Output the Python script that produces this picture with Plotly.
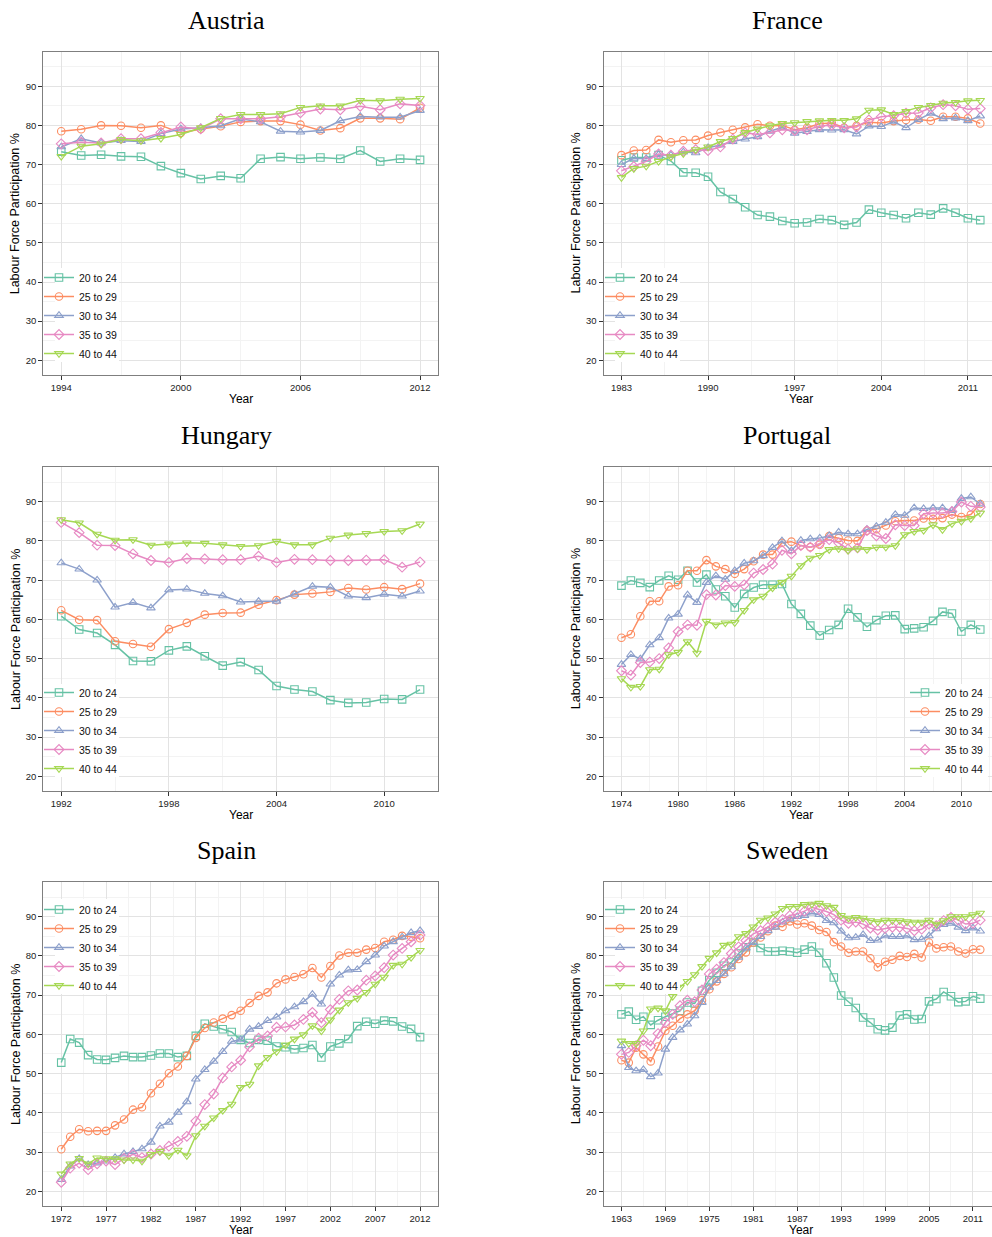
import plotly.graph_objects as go

W, H = 992, 1237

AGE_GROUPS = ["20 to 24", "25 to 29", "30 to 34", "35 to 39", "40 to 44"]
COLORS = ["#66C2A5", "#FC8D62", "#8DA0CB", "#E78AC3", "#A6D854"]
SYMBOLS = ["square-open", "circle-open", "triangle-up-open", "diamond-open", "triangle-down-open"]
Y_TICKS = [20, 30, 40, 50, 60, 70, 80, 90]

# ---------------- Austria ----------------
AUSTRIA_YEARS = list(range(1994, 2013))
AUSTRIA_20_24 = [73.3, 72.3, 72.5, 72.1, 72.0, 69.6, 67.8, 66.3, 67.1, 66.5, 71.5, 71.9, 71.5, 71.8, 71.5, 73.6, 70.8, 71.5, 71.2]
AUSTRIA_25_29 = [78.5, 79.0, 80.0, 79.9, 79.4, 80.0, 78.1, 79.1, 79.8, 80.9, 81.1, 81.1, 80.2, 78.7, 79.3, 81.8, 81.8, 81.6, 84.5]
AUSTRIA_30_34 = [74.5, 76.6, 75.5, 76.1, 75.9, 77.9, 79.1, 79.4, 79.9, 81.7, 80.9, 78.5, 78.3, 78.7, 81.2, 82.3, 82.1, 82.1, 83.8]
AUSTRIA_35_39 = [75.3, 75.7, 75.5, 76.6, 76.6, 78.2, 79.6, 79.1, 81.7, 81.7, 81.7, 82.2, 83.2, 84.2, 84.0, 84.9, 84.0, 85.5, 85.1]
AUSTRIA_40_44 = [72.1, 74.7, 75.3, 76.4, 76.1, 76.7, 77.7, 79.4, 81.8, 82.8, 82.8, 83.0, 84.6, 85.0, 85.0, 86.4, 86.3, 86.7, 86.9]
AUSTRIA_XTICKS = [1994, 2000, 2006, 2012]

# ---------------- France ----------------
FRANCE_YEARS = list(range(1983, 2013))
FRANCE_20_24 = [71.1, 71.8, 71.8, 72.4, 70.9, 68.0, 67.9, 66.9, 63.0, 61.2, 59.1, 57.1, 56.7, 55.6, 55.0, 55.2, 56.1, 55.8, 54.6, 55.2, 58.5, 57.7, 57.1, 56.3, 57.7, 57.2, 58.8, 57.7, 56.3, 55.8]
FRANCE_25_29 = [72.4, 73.6, 73.7, 76.3, 75.7, 76.2, 76.3, 77.4, 78.2, 78.9, 79.5, 80.3, 79.9, 80.0, 78.9, 79.4, 80.4, 80.6, 79.4, 79.9, 80.8, 80.6, 81.1, 81.4, 81.5, 81.2, 82.2, 82.2, 81.8, 80.5]
FRANCE_30_34 = [70.0, 71.6, 71.5, 72.5, 72.4, 73.2, 73.0, 74.3, 75.0, 75.9, 76.5, 77.1, 78.5, 79.5, 78.0, 78.4, 78.9, 78.8, 78.9, 77.8, 79.8, 79.7, 80.9, 79.4, 81.5, 83.1, 81.7, 81.9, 81.2, 82.4]
FRANCE_35_39 = [68.4, 69.5, 70.8, 72.7, 72.4, 73.4, 73.8, 73.6, 74.5, 76.5, 78.1, 77.7, 78.1, 78.9, 78.7, 78.9, 79.8, 80.1, 79.4, 79.6, 81.4, 82.2, 82.5, 83.1, 83.2, 84.5, 85.3, 85.0, 84.1, 84.3]
FRANCE_40_44 = [66.7, 69.0, 69.6, 70.8, 72.0, 72.8, 73.8, 74.5, 75.9, 76.7, 78.2, 79.1, 79.9, 80.5, 80.7, 81.0, 81.2, 81.3, 81.3, 81.7, 83.9, 84.0, 82.8, 83.6, 84.6, 85.1, 85.7, 85.9, 86.3, 86.4]
FRANCE_XTICKS = [1983, 1990, 1997, 2004, 2011]

# ---------------- Hungary ----------------
HUNGARY_YEARS = list(range(1992, 2013))
HUNGARY_20_24 = [60.8, 57.4, 56.5, 53.5, 49.4, 49.3, 52.1, 53.1, 50.6, 48.2, 49.1, 47.1, 43.0, 42.1, 41.6, 39.4, 38.7, 38.8, 39.7, 39.6, 42.1]
HUNGARY_25_29 = [62.3, 59.9, 59.8, 54.4, 53.7, 53.0, 57.5, 59.1, 61.2, 61.6, 61.7, 63.7, 64.9, 66.3, 66.6, 67.0, 68.0, 67.6, 68.2, 67.7, 69.1]
HUNGARY_30_34 = [74.4, 72.8, 70.0, 63.1, 64.3, 62.9, 67.5, 67.7, 66.6, 66.0, 64.4, 64.6, 64.6, 66.4, 68.4, 68.2, 65.9, 65.5, 66.4, 65.9, 67.2]
HUNGARY_35_39 = [84.7, 82.1, 78.9, 78.8, 76.7, 75.0, 74.5, 75.5, 75.4, 75.2, 75.2, 76.1, 74.5, 75.3, 75.2, 75.0, 75.0, 75.1, 75.2, 73.3, 74.6]
HUNGARY_40_44 = [85.4, 84.6, 81.7, 80.2, 80.3, 78.9, 79.2, 79.5, 79.4, 79.0, 78.6, 78.8, 79.9, 79.0, 79.0, 80.7, 81.5, 81.9, 82.4, 82.6, 84.3]
HUNGARY_XTICKS = [1992, 1998, 2004, 2010]

# ---------------- Portugal ----------------
PORTUGAL_YEARS = list(range(1974, 2013))
PORTUGAL_20_24 = [68.6, 69.9, 69.3, 68.2, 69.9, 71.1, 70.1, 72.4, 69.4, 71.4, 67.6, 65.9, 63.0, 66.5, 68.1, 68.8, 68.8, 69.0, 63.9, 61.4, 58.4, 55.9, 57.3, 58.6, 62.7, 60.5, 58.1, 59.8, 60.9, 61.0, 57.5, 57.7, 58.0, 59.6, 61.9, 61.5, 56.9, 58.6, 57.4]
PORTUGAL_25_29 = [55.3, 56.2, 60.8, 64.6, 64.6, 68.4, 68.7, 72.4, 72.4, 75.1, 73.5, 72.8, 71.6, 72.8, 74.8, 76.5, 76.5, 79.5, 79.8, 78.8, 78.4, 79.0, 81.2, 80.7, 80.1, 80.0, 82.6, 83.0, 83.9, 85.0, 85.2, 85.2, 85.7, 85.6, 85.8, 86.7, 86.1, 86.7, 89.4]
PORTUGAL_30_34 = [48.5, 51.0, 49.9, 53.5, 55.3, 60.3, 61.3, 66.2, 64.3, 69.4, 71.1, 70.2, 72.4, 74.3, 74.9, 76.2, 78.3, 80.0, 77.5, 80.1, 80.5, 80.7, 81.3, 82.2, 81.8, 81.8, 82.9, 83.7, 84.7, 86.7, 86.5, 88.4, 88.2, 88.4, 88.4, 87.7, 90.8, 91.2, 89.4]
PORTUGAL_35_39 = [46.9, 45.8, 49.0, 49.1, 50.0, 52.7, 56.9, 58.6, 58.5, 66.3, 66.2, 68.6, 68.4, 68.8, 71.8, 72.7, 74.1, 77.6, 76.7, 78.8, 78.4, 79.3, 80.3, 79.5, 77.9, 78.2, 82.6, 81.3, 80.6, 84.1, 83.9, 83.9, 86.9, 87.1, 87.1, 87.5, 89.9, 88.8, 88.6]
PORTUGAL_40_44 = [44.9, 42.7, 42.9, 47.2, 47.3, 51.0, 51.6, 54.3, 51.4, 59.5, 58.6, 59.1, 59.2, 62.3, 65.0, 65.9, 68.0, 69.4, 71.0, 73.7, 75.6, 76.3, 77.8, 78.0, 77.6, 78.0, 77.8, 78.4, 78.4, 78.8, 81.6, 82.4, 82.7, 84.1, 82.9, 84.4, 85.0, 85.7, 87.1]
PORTUGAL_XTICKS = [1974, 1980, 1986, 1992, 1998, 2004, 2010]

# ---------------- Spain ----------------
SPAIN_YEARS = list(range(1972, 2013))
SPAIN_20_24 = [52.8, 58.8, 57.9, 54.7, 53.6, 53.5, 54.0, 54.5, 54.2, 54.2, 54.6, 55.1, 55.1, 54.2, 54.5, 59.6, 62.7, 62.0, 61.3, 60.6, 58.6, 57.8, 58.6, 58.4, 56.9, 56.7, 56.2, 56.5, 57.3, 54.1, 56.9, 57.7, 58.8, 62.1, 63.2, 62.7, 63.5, 63.3, 62.0, 61.4, 59.3]
SPAIN_25_29 = [30.7, 33.9, 35.8, 35.3, 35.4, 35.4, 36.8, 38.3, 40.8, 41.4, 45.0, 47.4, 50.1, 51.8, 54.5, 59.1, 61.6, 63.0, 64.0, 64.9, 66.0, 68.0, 69.8, 70.7, 73.0, 74.0, 74.6, 75.3, 76.9, 74.5, 77.4, 80.1, 80.8, 80.8, 81.6, 82.0, 83.6, 84.1, 85.1, 84.9, 84.5]
SPAIN_30_34 = [23.0, 26.4, 28.3, 26.8, 27.2, 27.7, 28.6, 29.5, 30.1, 30.8, 32.5, 36.6, 37.6, 40.1, 42.8, 48.6, 51.0, 53.1, 55.6, 58.2, 58.6, 61.3, 62.0, 63.5, 64.4, 66.0, 67.0, 68.3, 70.2, 67.7, 72.8, 75.1, 76.4, 76.5, 78.5, 80.2, 82.5, 83.6, 84.8, 85.9, 86.4]
SPAIN_35_39 = [22.3, 25.9, 27.2, 25.5, 27.0, 27.7, 26.8, 28.4, 29.4, 28.6, 29.5, 30.4, 31.5, 32.7, 34.0, 37.9, 42.1, 44.8, 48.9, 51.7, 53.4, 56.8, 59.0, 59.6, 61.8, 61.9, 62.4, 63.8, 65.6, 63.0, 66.3, 68.9, 71.1, 71.3, 73.8, 74.9, 77.0, 80.2, 81.9, 83.6, 85.3]
SPAIN_40_44 = [24.4, 27.0, 28.4, 27.0, 28.5, 28.3, 28.3, 28.0, 28.0, 27.7, 29.4, 30.2, 29.1, 30.5, 29.1, 34.2, 36.6, 38.7, 40.6, 42.2, 46.5, 47.3, 52.0, 54.1, 55.6, 57.3, 58.8, 59.9, 62.2, 60.9, 63.7, 66.2, 68.1, 69.2, 70.7, 72.8, 74.6, 77.6, 77.9, 79.6, 81.4]
SPAIN_XTICKS = [1972, 1977, 1982, 1987, 1992, 1997, 2002, 2007, 2012]

# ---------------- Sweden ----------------
SWEDEN_YEARS = list(range(1963, 2013))
SWEDEN_20_24 = [65.1, 65.8, 63.7, 64.5, 62.4, 63.6, 64.5, 65.3, 66.0, 68.1, 67.9, 71.1, 73.8, 75.7, 77.5, 78.3, 80.6, 82.2, 83.4, 82.0, 81.1, 81.1, 81.3, 81.1, 80.8, 81.6, 82.4, 80.8, 78.1, 74.5, 69.9, 68.3, 66.7, 64.3, 63.0, 61.3, 61.0, 61.7, 64.8, 65.1, 63.8, 63.9, 68.4, 69.0, 70.8, 69.7, 68.2, 68.4, 69.7, 69.1]
SWEDEN_25_29 = [53.4, 52.8, 56.6, 54.9, 53.1, 56.9, 60.9, 62.2, 64.0, 65.1, 66.0, 68.7, 71.5, 73.5, 75.4, 77.1, 79.2, 80.9, 83.4, 84.7, 86.3, 87.7, 87.4, 88.8, 88.0, 88.3, 87.7, 86.6, 86.1, 83.5, 82.4, 80.8, 81.1, 81.1, 79.4, 77.1, 78.5, 79.0, 80.0, 79.7, 80.5, 79.6, 83.4, 81.9, 82.2, 82.4, 81.1, 80.6, 81.7, 81.6]
SWEDEN_30_34 = [57.1, 51.5, 50.7, 51.0, 49.2, 50.1, 56.2, 59.2, 61.1, 62.6, 64.7, 68.1, 72.0, 73.7, 75.4, 77.2, 79.6, 82.0, 83.4, 84.9, 86.4, 87.3, 88.6, 89.4, 90.0, 90.3, 90.9, 90.5, 89.0, 88.4, 86.3, 84.6, 84.7, 85.4, 83.9, 84.0, 85.1, 84.9, 84.9, 85.1, 84.1, 84.2, 85.1, 86.9, 88.0, 88.3, 87.3, 86.4, 87.1, 86.3]
SWEDEN_35_39 = [54.9, 55.4, 57.1, 58.5, 57.1, 60.2, 63.0, 65.1, 67.3, 68.7, 68.3, 71.3, 75.4, 76.6, 78.3, 80.6, 82.3, 83.9, 85.6, 86.4, 87.3, 88.6, 89.3, 90.3, 90.7, 91.4, 92.4, 91.8, 91.3, 90.5, 89.1, 88.3, 88.6, 88.1, 87.1, 86.6, 87.0, 87.3, 87.3, 87.0, 86.4, 86.8, 88.1, 87.7, 89.0, 89.8, 89.1, 88.1, 88.3, 89.1]
SWEDEN_40_44 = [58.3, 57.7, 57.7, 60.9, 66.5, 66.7, 66.0, 69.7, 72.0, 73.5, 75.2, 77.3, 79.4, 80.8, 82.7, 83.0, 84.9, 85.7, 87.4, 89.1, 89.7, 90.7, 92.1, 92.6, 92.6, 93.1, 93.2, 93.4, 92.8, 92.4, 90.3, 89.6, 89.8, 89.6, 89.0, 88.7, 89.1, 89.0, 89.0, 88.7, 88.6, 88.6, 89.1, 88.1, 89.0, 90.0, 90.0, 90.0, 90.5, 90.9]
SWEDEN_XTICKS = [1963, 1969, 1975, 1981, 1987, 1993, 1999, 2005, 2011]

# ---------------- layout geometry (pixels) ----------------
Y_RANGE = [16.25, 98.75]
COL_X = [(43.3, 438.0), (603.5, 998.2)]       # plot box left/right (right column runs off the page)
ROW_Y = [(52.0, 375.0), (467.3, 791.0), (882.3, 1206.0)]
TITLE_CX = [226.5, 787.0]

# legend: (legend left x, legend top y, white backing box x0, x1, y0, y1)
PANELS = [
    dict(name="Austria", col=0, row=0, years=AUSTRIA_YEARS,
         series=[AUSTRIA_20_24, AUSTRIA_25_29, AUSTRIA_30_34, AUSTRIA_35_39, AUSTRIA_40_44],
         xticks=AUSTRIA_XTICKS, leg=(39, 263), box=(55, 119, 268, 362)),
    dict(name="France", col=1, row=0, years=FRANCE_YEARS,
         series=[FRANCE_20_24, FRANCE_25_29, FRANCE_30_34, FRANCE_35_39, FRANCE_40_44],
         xticks=FRANCE_XTICKS, leg=(600, 263), box=(615, 680, 268, 362)),
    dict(name="Hungary", col=0, row=1, years=HUNGARY_YEARS,
         series=[HUNGARY_20_24, HUNGARY_25_29, HUNGARY_30_34, HUNGARY_35_39, HUNGARY_40_44],
         xticks=HUNGARY_XTICKS, leg=(39, 678), box=(55, 119, 684, 777)),
    dict(name="Portugal", col=1, row=1, years=PORTUGAL_YEARS,
         series=[PORTUGAL_20_24, PORTUGAL_25_29, PORTUGAL_30_34, PORTUGAL_35_39, PORTUGAL_40_44],
         xticks=PORTUGAL_XTICKS, leg=(905, 678), box=(922, 988, 684, 777)),
    dict(name="Spain", col=0, row=2, years=SPAIN_YEARS,
         series=[SPAIN_20_24, SPAIN_25_29, SPAIN_30_34, SPAIN_35_39, SPAIN_40_44],
         xticks=SPAIN_XTICKS, leg=(39, 895), box=(55, 119, 899, 994)),
    dict(name="Sweden", col=1, row=2, years=SWEDEN_YEARS,
         series=[SWEDEN_20_24, SWEDEN_25_29, SWEDEN_30_34, SWEDEN_35_39, SWEDEN_40_44],
         xticks=SWEDEN_XTICKS, leg=(600, 895), box=(615, 680, 899, 994)),
]

SANS = "Liberation Sans, Arial, Helvetica, sans-serif"
SERIF = "Liberation Serif, Times New Roman, serif"


def px(xp):
    return xp / W


def py(yp):
    return 1 - yp / H


fig = go.Figure()
annotations = []
shapes = []

for i, p in enumerate(PANELS):
    k = i + 1
    xa = "x" if k == 1 else f"x{k}"
    ya = "y" if k == 1 else f"y{k}"
    lg = "legend" if k == 1 else f"legend{k}"

    x0p, x1p = COL_X[p["col"]]
    y0p, y1p = ROW_Y[p["row"]]
    yrs = p["years"]
    span = yrs[-1] - yrs[0]
    lo = yrs[0] - 0.05 * span
    hi = yrs[-1] + 0.05 * span
    dom_right = min(x1p, W)
    hi_vis = lo + (hi - lo) * (dom_right - x0p) / (x1p - x0p)

    for j in range(5):
        fig.add_trace(go.Scatter(
            x=yrs, y=p["series"][j], mode="lines+markers", name=AGE_GROUPS[j],
            xaxis=xa, yaxis=ya, legend=lg, showlegend=True,
            line=dict(color=COLORS[j], width=1.5),
            marker=dict(symbol=SYMBOLS[j], size=7.5, color=COLORS[j], line=dict(width=1.1, color=COLORS[j])),
            cliponaxis=True,
        ))

    step = p["xticks"][1] - p["xticks"][0]
    xaxis = dict(
        domain=[px(x0p), px(dom_right)], anchor=ya, range=[lo, hi_vis],
        tickmode="array", tickvals=p["xticks"], ticktext=[str(t) for t in p["xticks"]],
        ticks="outside", ticklen=4, tickwidth=1, tickcolor="#333333",
        tickfont=dict(family=SANS, size=9.5, color="#222222"),
        showgrid=True, gridcolor="#e3e3e3", gridwidth=1,
        minor=dict(tickmode="linear", tick0=p["xticks"][0] + step / 2, dtick=step,
                   showgrid=True, gridcolor="#f3f3f3", gridwidth=1, ticks=""),
        showline=True, mirror=True, linecolor="#7f7f7f", linewidth=1,
        zeroline=False, fixedrange=True,
    )
    yaxis = dict(
        domain=[py(y1p), py(y0p)], anchor=xa, range=Y_RANGE,
        tickmode="array", tickvals=Y_TICKS, ticktext=[str(t) for t in Y_TICKS],
        ticks="outside", ticklen=4, tickwidth=1, tickcolor="#333333",
        tickfont=dict(family=SANS, size=9.5, color="#222222"),
        showgrid=True, gridcolor="#e3e3e3", gridwidth=1,
        minor=dict(tickmode="linear", tick0=25, dtick=10,
                   showgrid=True, gridcolor="#f3f3f3", gridwidth=1, ticks=""),
        showline=True, mirror=True, linecolor="#7f7f7f", linewidth=1,
        zeroline=False, fixedrange=True,
    )
    fig.update_layout({("xaxis" if k == 1 else f"xaxis{k}"): xaxis,
                       ("yaxis" if k == 1 else f"yaxis{k}"): yaxis})

    lx, ly = p["leg"]
    fig.update_layout({lg: dict(
        x=px(lx), y=py(ly), xanchor="left", yanchor="top",
        bgcolor="rgba(255,255,255,0)", borderwidth=0,
        font=dict(family=SANS, size=10.5, color="#111111"),
        tracegroupgap=0, itemclick=False, itemdoubleclick=False,
    )})

    # white legend backing (as in the ggplot legend background)
    bx0, bx1, by0, by1 = p["box"]
    shapes.append(dict(
        type="rect", xref="paper", yref="paper", layer="above",
        x0=px(bx0), x1=px(bx1), y0=py(by1), y1=py(by0),
        fillcolor="white", line=dict(width=0),
    ))

    # panel title
    annotations.append(dict(
        text=p["name"], x=px(TITLE_CX[p["col"]]), y=py(y0p - 32), xref="paper", yref="paper",
        xanchor="center", yanchor="middle", showarrow=False,
        font=dict(family=SERIF, size=26, color="#000000"),
    ))
    # y-axis title
    annotations.append(dict(
        text="Labour Force Participation %", x=px(x0p - 27.5), y=py((y0p + y1p) / 2),
        xref="paper", yref="paper", xanchor="center", yanchor="middle", textangle=-90,
        showarrow=False, font=dict(family=SANS, size=12.5, color="#000000"),
    ))
    # x-axis title
    annotations.append(dict(
        text="Year", x=px((x0p + x1p) / 2), y=py(y1p + 24), xref="paper", yref="paper",
        xanchor="center", yanchor="middle", showarrow=False,
        font=dict(family=SANS, size=12, color="#000000"),
    ))

fig.update_layout(
    width=W, height=H, margin=dict(l=0, r=0, t=0, b=0),
    paper_bgcolor="white", plot_bgcolor="white",
    annotations=annotations, shapes=shapes, showlegend=True,
)

fig.write_html("out.html", config={"responsive": False})
